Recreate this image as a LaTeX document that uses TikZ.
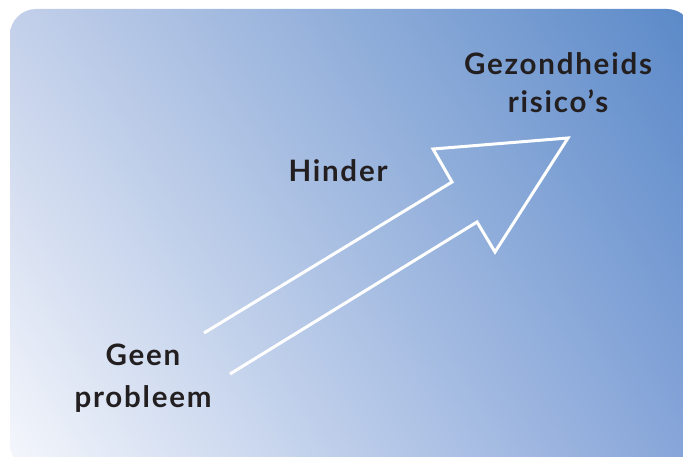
\documentclass[tikz,border=0pt]{standalone}
\usepackage{fontspec}
\usetikzlibrary{shadings}
\setmainfont{Lato}[LetterSpace=6]
\definecolor{inkgrey}{HTML}{231F20}
\definecolor{bgtl}{HTML}{C3D0EA}
\definecolor{bgtr}{HTML}{5A89C8}
\definecolor{bgbl}{HTML}{F5F7FC}
\definecolor{bgbr}{HTML}{87A5D9}
\tikzset{lbl/.style={font=\fontsize{29.5}{38}\selectfont\bfseries, text=inkgrey, align=center, anchor=base}}

\begin{document}
\begin{tikzpicture}[x=1pt,y=-1pt]
\useasboundingbox (0,0) rectangle (683,457);
\begin{scope}
\clip (0,0) rectangle (683,457);
\shade[rounded corners=26pt, upper left=bgtl, upper right=bgtr, lower left=bgbl, lower right=bgbr] (10,9) rectangle (693,470);
\end{scope}
% hollow arrow
\draw[white, line width=3pt, miter limit=20] (204,333) -- (452,182) -- (433,149) -- (568,138) -- (495,252) -- (477,222) -- (230,374);
\node[lbl] (risk) at (558,113) {Gezondheids\\risico’s};
\node[lbl] (hinder) at (338,182) {Hinder};
\node[lbl, font=\fontsize{29.5}{42}\selectfont\bfseries] (geen) at (143,407) {Geen\\probleem};
\end{tikzpicture}
\end{document}
